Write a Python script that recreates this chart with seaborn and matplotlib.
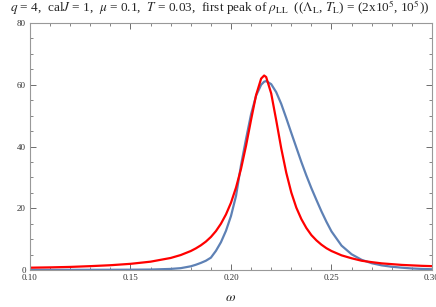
import matplotlib
matplotlib.use("Agg")
import matplotlib.pyplot as plt
import seaborn as sns
import pandas as pd
from matplotlib.ticker import MultipleLocator

omega = [0.10, 0.11, 0.12, 0.13, 0.14, 0.15, 0.16, 0.17, 0.175,
         0.18, 0.1825, 0.185, 0.1875, 0.19, 0.1925, 0.195, 0.1975,
         0.20, 0.2025, 0.205, 0.2075, 0.21, 0.2125, 0.215, 0.2165, 0.2175,
         0.22, 0.2225, 0.225, 0.2275, 0.23, 0.2325, 0.235, 0.2375,
         0.24, 0.2425, 0.245, 0.2475, 0.25, 0.255, 0.26, 0.265,
         0.27, 0.275, 0.28, 0.285, 0.29, 0.295, 0.30]

rho_red = [0.75, 0.85, 1.0, 1.25, 1.55, 2.0, 2.7, 3.9, 4.85,
           6.15, 7.0, 8.0, 9.2, 10.7, 12.6, 15.0, 18.0,
           21.8, 26.7, 32.8, 40.3, 48.7, 56.7, 62.0, 63.0, 62.5,
           57.2, 48.5, 39.4, 31.5, 25.1, 20.2, 16.5, 13.6,
           11.3, 9.6, 8.2, 7.05, 6.15, 4.75, 3.8, 3.0,
           2.55, 2.15, 1.9, 1.65, 1.5, 1.35, 1.25]

rho_blue = [0.05, 0.05, 0.06, 0.07, 0.08, 0.1, 0.15, 0.35, 0.6,
            1.2, 1.7, 2.3, 3.0, 4.0, 6.2, 9.0, 12.7,
            17.5, 24.0, 34.0, 42.5, 50.5, 56.5, 60.0, 61.0, 61.2,
            60.2, 57.6, 53.8, 49.2, 44.4, 39.7, 35.0, 30.6,
            26.5, 22.7, 19.0, 15.6, 12.5, 7.9, 5.1, 3.3,
            2.2, 1.5, 1.05, 0.75, 0.5, 0.35, 0.25]

df = pd.DataFrame({
    "omega": omega * 2,
    "rho": rho_blue + rho_red,
    "curve": ["blue"] * len(omega) + ["red"] * len(omega),
})

sns.set_style("ticks")
plt.rcParams["font.family"] = ["Liberation Serif", "DejaVu Serif"]
plt.rcParams["mathtext.fontset"] = "stix"

fig = plt.figure(figsize=(4.36, 3.07), dpi=100)
ax = fig.add_axes([0.0688, 0.1205, 0.922, 0.8045])

sns.lineplot(data=df, x="omega", y="rho", hue="curve",
             palette={"blue": "#5E81B5", "red": "#FF0000"},
             linewidth=1.6, legend=False, ax=ax)

ax.set_xlim(0.10, 0.30)
ax.set_ylim(0, 80)
ax.xaxis.set_major_locator(MultipleLocator(0.05))
ax.xaxis.set_minor_locator(MultipleLocator(0.01))
ax.yaxis.set_major_locator(MultipleLocator(20))
ax.yaxis.set_minor_locator(MultipleLocator(5))
ax.xaxis.set_major_formatter(matplotlib.ticker.FormatStrFormatter("%.2f"))

for s in ax.spines.values():
    s.set_visible(True)
    s.set_color("#999999")
    s.set_linewidth(0.8)
ax.tick_params(which="both", direction="in", top=True, right=True,
               color="#555555", labelsize=6.5, labelcolor="#333333", pad=3)
ax.tick_params(which="major", length=4, width=0.6)
ax.tick_params(which="minor", length=2.2, width=0.5)

ax.set_xlabel(r"$\omega$", fontsize=10, labelpad=6)
ax.set_ylabel("")

fig.text(0.503, 0.974,
         r"$q$ = 4,  cal$J$ = 1,  $\mu$ = 0.1,  $T$ = 0.03,  first peak of $\rho_{\rm LL}$"
         r"  (($\Lambda_{\rm L}$, $T_{\rm L}$) = (2x10$^5$, 10$^5$))",
         ha="center", va="center", fontsize=9.5)

fig.savefig("out.png", dpi=100)
